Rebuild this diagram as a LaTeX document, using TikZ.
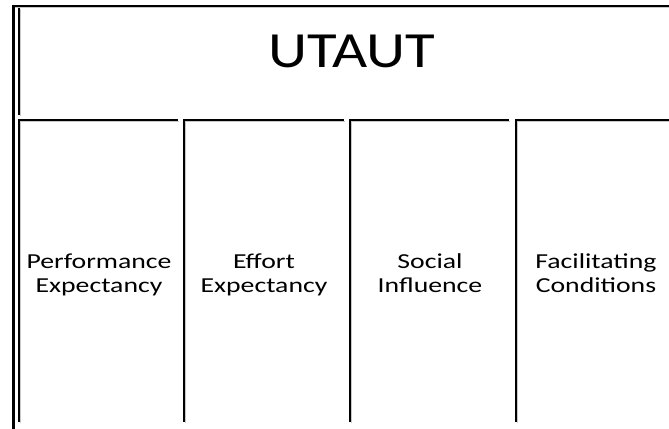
\documentclass[tikz,border=0pt]{standalone}
\usepackage{fontspec}
\setmainfont{Carlito}
\newfontfamily\widefont[FakeStretch=1.3]{Carlito}
\newfontfamily\titlefont[FakeStretch=1.2]{Carlito}

\begin{document}
\begin{tikzpicture}[x=0.75pt,y=-0.75pt,
    shade line/.style={preaction={draw=black!22,transform canvas={shift={(0.8pt,-0.8pt)}}}},
    frame/.style={line width=2pt,shade line},
    edge/.style={line width=1.3pt,shade line},
    title/.style={anchor=base,font=\titlefont\fontsize{38}{40}\selectfont},
    label/.style={anchor=base,align=center,font=\widefont\fontsize{16}{17.4}\selectfont}]

    \useasboundingbox (0,0) rectangle (669,429);

    % outer frame of the model
    \draw[frame] (13.5,429) -- (13.5,6) -- (669,6);

    % title box
    \draw[edge] (19,8) -- (19,115);
    \node[title] (utaut) at (352,67) {UTAUT};

    % the four constructs, each drawn as an open box
    % (base anchor sits on the second line)
    \foreach \x/\w/\name/\txt in {19/159/perf/{Performance\\Expectancy},
                                 184/160/effort/{Effort\\Expectancy},
                                 350/159/social/{Social\\Influence},
                                 516/153/facil/{Facilitating\\Conditions}}
    {
        \draw[edge] (\x,422) -- (\x,120) -- (\x+\w,120);
        \node[label] (\name) at (\x+80,292) {\txt};
    }

\end{tikzpicture}
\end{document}
